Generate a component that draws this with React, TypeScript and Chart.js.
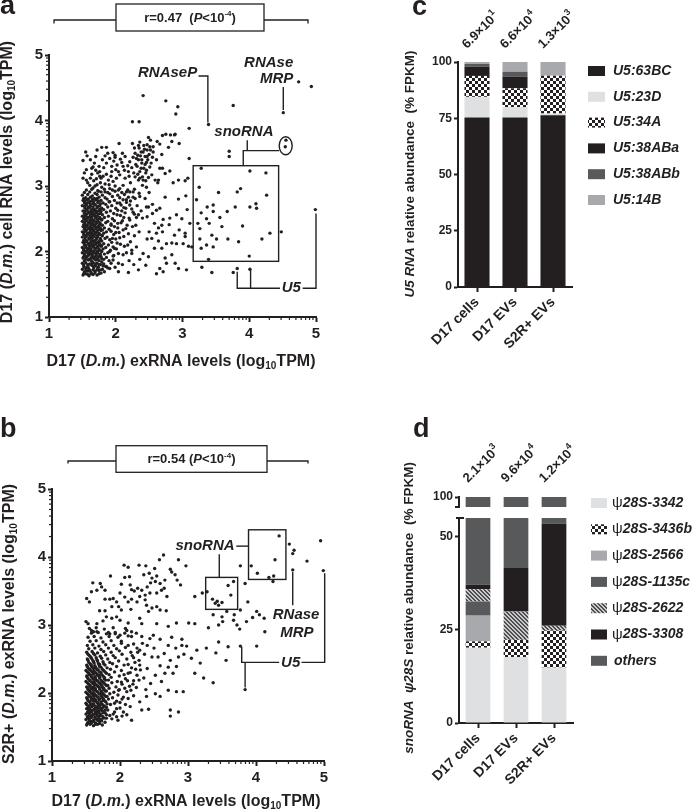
import React, { useEffect, useRef } from 'react';
import { Chart, registerables } from 'chart.js';

Chart.register(...registerables);

const INK = '#231f20';
const FF = '"Liberation Sans", Arial, Helvetica, sans-serif';
const font = (size: number, italic = false) => `${italic ? 'italic ' : ''}bold ${size}px ${FF}`;

// ---------------- Panel a: D17 exRNA (x) vs D17 cell RNA (y), log10 TPM ----------------
const aHighlighted: [number, number][] = [
  [2.41,4.38],[2.75,4.30],[2.93,4.21],[2.90,4.10],[2.25,3.98],[2.35,3.98],[3.39,3.94],[3.10,3.88],
  [3.76,4.23],[4.74,4.59],[4.93,4.52],[4.51,4.12],[4.55,3.70],[4.54,3.60],[3.70,3.53],[3.70,3.45],
  [3.10,3.42],[4.99,2.64],[3.82,1.74],[4.01,1.73],[3.76,1.68],[4.48,2.30],
];
const aBoxed: [number, number][] = [
  [3.28,3.27],[4.01,3.23],[4.25,3.20],[3.25,2.98],[3.54,2.90],[3.82,2.91],[3.87,2.96],[4.26,2.86],
  [3.21,2.79],[3.37,2.68],[3.46,2.71],[3.46,2.61],[3.28,2.59],[3.67,2.61],[3.79,2.68],[4.01,2.68],
  [4.10,2.73],[4.11,2.66],[3.56,2.52],[3.36,2.50],[3.26,2.35],[3.23,2.43],[3.40,2.43],[3.59,2.38],
  [3.90,2.39],[4.31,2.28],[3.44,2.25],[3.51,2.19],[3.68,2.19],[3.26,2.19],[3.84,2.15],[4.19,2.19],
  [3.36,2.10],[3.46,2.07],[3.28,2.05],[3.39,1.88],[4.00,1.93],
];
const aUpperCloud: [number, number][] = [
  [1.51,3.39],[1.57,3.46],[1.72,3.55],[1.79,3.59],[1.86,3.59],[1.96,3.51],[2.05,3.65],[2.25,3.65],
  [2.36,3.67],[2.49,3.74],[2.52,3.70],[2.62,3.68],[2.66,3.64],[2.70,3.77],[2.75,3.79],[2.84,3.68],
  [2.89,3.79],[2.95,3.65],[2.79,3.59],[2.69,3.48],[2.82,3.78],[2.88,3.78],
  [1.56,3.25],[1.66,3.29],[1.75,3.30],[1.76,3.22],[1.86,3.35],[1.91,3.42],[1.99,3.47],[2.10,3.50],
  [2.14,3.45],[2.21,3.37],[2.29,3.50],[2.34,3.40],[2.39,3.35],[2.44,3.45],[2.47,3.55],[2.51,3.60],
  [2.56,3.52],[2.61,3.40],[2.66,3.27],[2.74,3.19],[2.81,3.23],[2.94,3.09],[3.04,3.08],[3.08,3.12],
  [2.74,2.83],[2.94,2.80],[3.05,2.85],
  [1.51,3.12],[1.56,3.09],[1.62,3.12],[1.71,3.11],[1.81,3.15],[1.89,3.09],[1.96,3.07],[2.01,3.12],
  [2.06,3.17],[2.14,3.12],[2.19,3.22],[2.24,3.28],[2.29,3.14],[2.36,3.22],[2.41,3.09],[2.46,3.24],
  [2.54,3.17],[2.59,3.09],[2.64,3.09],[2.70,3.27],
  [1.91,2.96],[1.99,3.00],[2.04,2.94],[2.11,3.01],[2.16,2.91],[2.26,2.91],[2.34,3.09],[2.40,3.01],
  [2.46,2.98],[2.50,2.90],[2.36,2.84],[2.44,2.81],[2.26,2.83],[2.16,2.79],[2.06,2.74],[1.91,2.76],
  [2.21,2.71],[2.46,2.68],[2.66,2.66],[1.69,3.00],[1.79,2.98],[1.84,2.91],
  [1.97,3.38],[2.02,3.32],[2.07,3.41],[2.00,3.25],[2.11,3.30],[1.94,3.30],[2.04,3.22],[2.09,3.36],
  [1.99,3.44],[2.13,3.24],[2.32,3.30],[2.37,3.46],[2.41,3.52],[2.44,3.33],[2.48,3.40],[2.35,3.58],
  [2.42,3.62],[2.50,3.48],[2.38,3.27],[2.45,3.20],[2.31,3.42],[2.53,3.35],[2.40,3.14],[2.47,3.63],
  [2.56,3.60],[2.33,3.18],[1.53,3.20],[1.58,3.05],[1.64,3.18],[1.68,3.35],[1.73,3.20],[1.77,3.05],
  [1.82,3.28],[1.86,3.18],[1.62,3.40],[1.70,3.45],[1.55,3.52],[1.80,3.40],[1.88,3.50],[1.66,2.97],
  [1.74,2.92],[1.78,3.12],[1.90,3.02],[2.45,3.08],[2.63,3.05],[2.86,3.05],
  [2.22,3.05],[2.27,3.20],[2.30,3.33],[2.33,3.47],[2.36,3.12],[2.39,3.40],[2.42,3.27],[2.43,3.56],
  [2.46,3.36],[2.49,3.13],[2.51,3.29],[2.55,3.44],[2.28,3.58],[2.38,3.52],[2.34,3.62],[2.47,3.45],
  [2.26,3.44],[2.18,3.31],[2.20,3.15],[2.52,3.55],[1.61,3.01],[1.67,3.08],[1.72,3.02],[1.76,3.15],
  [1.84,3.03],[1.93,3.15],[1.64,3.27],[1.70,3.24],[1.84,3.46],[1.94,3.22],
];
const aSpread: [number, number][] = [
  [2.49,2.68],[2.61,2.63],[2.34,2.56],[2.40,2.51],[2.47,2.53],[2.71,2.49],[2.81,2.51],[2.91,2.56],
  [2.69,2.40],[2.80,2.41],[3.11,2.43],[2.50,2.30],[2.61,2.28],[2.70,2.30],[2.47,2.19],[2.54,2.20],
  [2.64,2.16],[2.76,2.12],[2.84,2.13],[2.91,2.12],[3.04,2.28],[3.04,2.23],[3.01,2.12],[3.09,2.08],
  [3.14,2.07],[2.69,2.05],[2.41,1.97],[2.49,1.92],[2.36,1.88],[2.24,2.02],[2.24,1.97],[2.31,2.07],
  [2.16,1.98],[2.11,1.95],[2.04,1.97],[1.96,1.93],[1.91,2.00],[2.84,1.95],[2.74,1.90],[2.76,1.82],
  [2.89,1.82],[2.94,1.74],[3.06,1.72],[2.66,1.74],[2.61,1.66],[2.34,1.72],[2.19,1.68],[2.04,1.69],
  [1.91,1.74],[1.86,1.77],[2.04,1.82],[1.96,1.87],[3.29,1.76],[3.44,1.68],[2.71,1.69],[3.07,2.64],
  [1.93,2.40],[1.98,2.47],[2.03,2.36],[2.08,2.44],[2.12,2.52],[2.17,2.40],[2.21,2.48],[2.25,2.38],
  [2.02,2.56],[2.09,2.62],[2.15,2.66],[2.26,2.60],[2.31,2.52],[2.00,2.29],[2.06,2.21],[2.11,2.33],
  [2.19,2.27],[2.22,2.15],[1.95,2.20],[2.02,2.13],[2.13,2.08],[1.98,2.05],[2.28,2.24],[2.18,2.10],
  [2.35,2.30],[2.30,2.40],[2.38,2.62],[2.55,2.58],[2.58,2.43],[2.20,1.86],[2.10,1.80],[2.27,1.80],
  [1.99,1.76],[2.45,1.79],[2.58,2.05],[2.64,2.36],[2.95,2.33],[2.88,2.25],[2.99,2.50],[2.55,2.72],
];
const aDenseCore: [number, number][] = [
  [1.51,1.64],[1.55,1.66],[1.60,1.63],[1.66,1.65],[1.72,1.64],[1.78,1.67],
  [1.53,1.69],[1.58,1.70],[1.63,1.68],[1.69,1.70],[1.75,1.71],[1.83,1.69],
  [1.50,1.73],[1.56,1.74],[1.61,1.72],[1.67,1.75],[1.73,1.74],[1.80,1.73],[1.88,1.75],
  [1.52,1.78],[1.58,1.77],[1.64,1.79],[1.70,1.78],[1.77,1.80],[1.85,1.77],
  [1.50,1.82],[1.55,1.83],[1.61,1.81],[1.66,1.83],[1.72,1.82],[1.79,1.84],[1.93,1.82],
  [1.53,1.86],[1.59,1.87],[1.64,1.85],[1.70,1.87],[1.75,1.86],[1.82,1.88],[1.90,1.86],
  [1.51,1.90],[1.56,1.91],[1.62,1.89],[1.68,1.91],[1.73,1.90],[1.78,1.92],[1.86,1.91],
  [1.54,1.94],[1.60,1.95],[1.65,1.93],[1.71,1.95],[1.76,1.94],[1.83,1.96],[1.97,1.94],
  [1.50,1.98],[1.56,1.99],[1.62,1.97],[1.67,1.99],[1.73,1.98],[1.79,2.00],[1.88,1.98],
  [1.52,2.02],[1.58,2.03],[1.63,2.01],[1.69,2.03],[1.75,2.02],[1.81,2.04],[1.92,2.02],[2.01,2.04],
  [1.50,2.06],[1.55,2.07],[1.61,2.05],[1.66,2.07],[1.72,2.06],[1.78,2.08],[1.85,2.06],[1.96,2.07],
  [1.53,2.10],[1.59,2.11],[1.64,2.09],[1.70,2.11],[1.76,2.10],[1.82,2.12],[1.89,2.10],[2.07,2.11],
  [1.51,2.14],[1.56,2.15],[1.62,2.13],[1.68,2.15],[1.73,2.14],[1.79,2.16],[1.94,2.14],
  [1.54,2.18],[1.60,2.19],[1.65,2.17],[1.71,2.19],[1.77,2.18],[1.84,2.20],[1.91,2.18],[2.00,2.19],
  [1.50,2.22],[1.56,2.23],[1.62,2.21],[1.67,2.23],[1.73,2.22],[1.80,2.24],[1.87,2.22],[2.12,2.23],
  [1.52,2.26],[1.58,2.27],[1.64,2.25],[1.69,2.27],[1.75,2.26],[1.82,2.28],[1.97,2.26],
  [1.50,2.30],[1.55,2.31],[1.61,2.29],[1.67,2.31],[1.72,2.30],[1.78,2.32],[1.86,2.30],[1.93,2.31],[2.05,2.29],
  [1.53,2.34],[1.59,2.35],[1.64,2.33],[1.70,2.35],[1.76,2.34],[1.83,2.36],[1.90,2.34],[2.15,2.35],
  [1.51,2.38],[1.57,2.39],[1.62,2.37],[1.68,2.39],[1.74,2.38],[1.80,2.40],[1.98,2.38],
  [1.54,2.42],[1.60,2.43],[1.66,2.41],[1.71,2.43],[1.77,2.42],[1.85,2.44],[1.93,2.42],[2.03,2.43],
  [1.50,2.46],[1.56,2.47],[1.62,2.45],[1.67,2.47],[1.73,2.46],[1.79,2.48],[1.88,2.46],[2.10,2.47],
  [1.52,2.50],[1.58,2.51],[1.64,2.49],[1.70,2.51],[1.76,2.50],[1.83,2.52],[1.95,2.50],[2.20,2.51],
  [1.50,2.54],[1.55,2.55],[1.61,2.53],[1.67,2.55],[1.72,2.54],[1.80,2.56],[1.89,2.54],[2.07,2.55],
  [1.53,2.58],[1.59,2.59],[1.65,2.57],[1.71,2.59],[1.77,2.58],[1.86,2.60],[1.97,2.58],[2.14,2.59],[2.28,2.57],
  [1.51,2.62],[1.57,2.63],[1.63,2.61],[1.68,2.63],[1.74,2.62],[1.82,2.64],[1.92,2.62],[2.03,2.63],
  [1.54,2.66],[1.60,2.67],[1.66,2.65],[1.72,2.67],[1.79,2.66],[1.88,2.68],[2.00,2.66],[2.12,2.67],[2.24,2.65],
  [1.50,2.70],[1.56,2.71],[1.62,2.69],[1.69,2.71],[1.76,2.70],[1.85,2.72],[1.94,2.70],[2.08,2.71],[2.32,2.70],
  [1.53,2.74],[1.59,2.75],[1.66,2.73],[1.73,2.75],[1.81,2.74],[1.90,2.76],[2.02,2.74],[2.16,2.75],
  [1.51,2.78],[1.57,2.79],[1.64,2.77],[1.70,2.79],[1.78,2.78],[1.87,2.80],[1.98,2.78],[2.11,2.79],[2.22,2.77],
  [1.55,2.82],[1.62,2.83],[1.68,2.81],[1.75,2.83],[1.84,2.82],[1.95,2.84],[2.06,2.82],[2.19,2.83],[2.29,2.81],
  [1.50,2.86],[1.58,2.87],[1.65,2.85],[1.72,2.87],[1.80,2.86],[1.91,2.88],[2.03,2.86],[2.13,2.87],
  [1.53,2.90],[1.61,2.91],[1.69,2.89],[1.78,2.91],[1.88,2.90],[1.99,2.92],[2.09,2.90],[2.21,2.91],[2.35,2.89],
  [1.56,2.94],[1.64,2.95],[1.73,2.93],[1.83,2.95],[1.95,2.94],[2.06,2.96],[2.18,2.94],[2.28,2.95],
];
const aDenseFill: [number, number][] = [
  [1.52,1.66],[1.58,1.65],[1.63,1.66],[1.69,1.67],[1.75,1.66],
  [1.55,1.71],[1.61,1.71],[1.66,1.72],[1.72,1.72],[1.78,1.72],
  [1.53,1.76],[1.59,1.75],[1.67,1.77],[1.74,1.76],[1.81,1.78],
  [1.52,1.80],[1.58,1.80],[1.64,1.81],[1.69,1.81],[1.75,1.80],[1.82,1.81],
  [1.55,1.88],[1.61,1.88],[1.67,1.89],[1.72,1.88],[1.79,1.89],
  [1.52,1.92],[1.58,1.93],[1.64,1.92],[1.70,1.93],[1.75,1.92],
  [1.53,1.96],[1.59,1.97],[1.65,1.96],[1.70,1.97],[1.77,1.96],
  [1.55,2.00],[1.61,2.00],[1.66,2.00],[1.72,2.00],[1.78,2.01],
  [1.52,2.04],[1.57,2.05],[1.63,2.04],[1.69,2.05],[1.75,2.04],
  [1.55,2.09],[1.61,2.08],[1.67,2.09],[1.73,2.08],[1.79,2.09],
  [1.53,2.13],[1.59,2.12],[1.65,2.12],[1.71,2.13],[1.76,2.12],
  [1.52,2.17],[1.57,2.16],[1.63,2.16],[1.69,2.17],[1.75,2.16],
  [1.54,2.21],[1.60,2.20],[1.65,2.21],[1.71,2.21],[1.77,2.20],
  [1.55,2.25],[1.61,2.24],[1.67,2.25],[1.72,2.24],[1.79,2.25],
  [1.52,2.29],[1.58,2.28],[1.64,2.28],[1.70,2.29],[1.75,2.28],
  [1.56,2.33],[1.62,2.32],[1.67,2.32],[1.73,2.33],[1.80,2.33],
  [1.54,2.37],[1.60,2.36],[1.65,2.36],[1.71,2.37],[1.77,2.36],
  [1.52,2.41],[1.57,2.40],[1.63,2.40],[1.69,2.41],[1.75,2.40],
  [1.53,2.45],[1.59,2.44],[1.65,2.44],[1.70,2.45],[1.76,2.44],
  [1.55,2.49],[1.61,2.48],[1.67,2.48],[1.73,2.49],[1.79,2.49],
  [1.53,2.53],[1.58,2.52],[1.64,2.52],[1.70,2.53],[1.76,2.52],
  [1.56,2.57],[1.62,2.56],[1.68,2.56],[1.74,2.57],
  [1.54,2.61],[1.60,2.60],[1.66,2.60],[1.71,2.61],[1.78,2.61],
  [1.57,2.65],[1.63,2.64],[1.69,2.64],[1.76,2.65],
  [1.53,2.69],[1.59,2.68],[1.66,2.68],[1.73,2.69],
  [1.56,2.73],[1.62,2.72],[1.69,2.72],[1.77,2.73],
  [1.54,2.77],[1.61,2.76],[1.67,2.76],[1.74,2.77],
  [1.52,2.81],[1.59,2.80],[1.65,2.80],[1.72,2.81],
];

// ---------------- Panel b: D17 exRNA (x) vs S2R+ exRNA (y), log10 TPM ----------------
const bHighlighted: [number, number][] = [
  [4.95,4.24],[4.34,4.31],[4.49,4.19],[4.56,4.10],[4.54,4.05],[4.75,3.94],[4.28,3.96],[3.93,3.87],
  [3.77,3.87],[4.02,3.76],[4.19,3.70],[4.26,3.72],[4.25,3.64],[4.54,3.81],[4.99,3.80],
  [3.67,3.64],[3.59,3.58],[3.28,3.49],[3.63,3.44],[3.36,3.38],[3.43,3.35],[3.50,3.33],[3.40,3.32],
  [3.45,3.29],[3.84,2.05],[3.77,2.69],[4.01,2.69],[4.13,2.90],[3.84,3.61],[3.10,3.42],[3.21,3.47],
];
const bRight: [number, number][] = [
  [2.71,2.98],[3.30,2.96],[3.45,3.00],[3.51,3.05],[3.67,3.07],[3.72,3.00],[3.86,3.05],[3.95,3.11],
  [4.01,3.20],[4.05,3.15],[4.12,3.10],[3.88,3.34],[3.77,3.22],[3.37,3.15],[3.50,3.12],[3.57,3.20],
  [3.68,3.15],[3.76,2.94],[3.45,2.75],[3.41,2.59],[3.59,2.68],[3.56,2.48],[3.37,2.15],
];
const bUpperCloud: [number, number][] = [
  [2.64,4.03],[2.58,3.96],[2.86,3.96],[2.97,3.87],[2.06,3.88],[2.12,3.85],[2.28,3.88],[2.38,3.87],
  [2.51,3.83],[1.86,3.72],[2.07,3.70],[2.14,3.71],[2.35,3.74],[2.43,3.76],[2.47,3.69],[2.54,3.72],
  [2.74,3.82],[2.76,3.78],[2.81,3.74],[2.84,3.66],[2.89,3.59],[1.60,3.62],[1.71,3.61],[1.73,3.56],
  [1.78,3.51],[1.66,3.51],[1.58,3.49],[2.02,3.60],[2.15,3.59],[2.17,3.52],[2.21,3.50],[2.26,3.54],
  [2.32,3.51],[2.40,3.56],[2.45,3.62],[2.52,3.64],[2.59,3.61],[2.66,3.66],[2.61,3.51],[2.54,3.47],
  [2.44,3.47],[2.37,3.44],[2.65,3.54],[2.69,3.42],[1.51,3.39],[1.55,3.34],[1.78,3.38],[1.85,3.38],
  [1.90,3.39],[1.95,3.34],[2.00,3.47],[2.07,3.41],[2.12,3.34],[2.17,3.38],[2.25,3.34],[2.29,3.42],
  [2.37,3.37],[2.39,3.29],[2.47,3.25],[2.54,3.27],[2.59,3.22],[2.42,3.20],[2.68,3.21],[1.70,3.21],
  [1.78,3.21],[1.88,3.27],[1.98,3.27],[2.02,3.22],[2.16,3.23],[1.88,3.10],[1.95,3.12],[2.00,3.07],
  [1.80,3.12],[1.50,3.05],[1.53,3.02],[1.66,3.02],[1.75,3.06],[2.12,3.03],[2.29,3.10],[2.32,3.02],
  [2.54,3.02],[2.83,3.03],[3.01,3.03],[3.10,3.02],[1.58,2.92],[1.66,2.90],[1.83,2.89],[1.93,2.87],
  [2.00,2.85],[2.10,2.92],[2.17,2.90],[2.32,2.83],[2.49,2.85],[2.76,2.82],[2.91,2.79],
];
const bTail: [number, number][] = [
  [1.61,2.90],[1.85,2.87],[2.07,2.88],[2.17,2.83],[2.44,2.80],[2.59,2.79],[2.71,2.70],[2.82,2.66],
  [2.91,2.70],[2.98,2.69],[3.13,2.63],[3.27,2.66],[2.02,2.73],[2.12,2.70],[2.40,2.70],[2.29,2.63],
  [2.47,2.53],[2.56,2.53],[2.65,2.58],[2.74,2.48],[2.86,2.53],[2.94,2.57],[3.05,2.51],[3.18,2.44],
  [2.59,2.40],[2.71,2.38],[2.83,2.39],[2.29,2.41],[2.40,2.36],[2.52,2.26],[2.66,2.29],[2.78,2.29],
  [3.10,2.29],[3.23,2.22],[2.61,2.17],[2.71,2.04],[2.83,2.02],[2.93,2.02],[2.52,1.99],[2.59,1.95],
  [2.39,1.95],[2.29,1.87],[2.32,1.75],[2.42,1.76],[2.74,1.75],[2.86,1.72],[2.74,1.66],[2.15,1.80],
  [2.05,1.72],[2.17,1.60],[2.10,1.68],[1.95,1.65],
  [1.88,1.62],[1.97,1.60],[2.03,1.66],[1.92,1.72],[2.00,1.78],[2.08,1.83],[1.95,1.88],[2.03,1.91],
  [2.12,1.92],[2.20,1.96],[1.98,2.04],[2.07,2.07],[2.16,2.04],[2.24,2.08],[2.02,2.16],[2.11,2.18],
  [2.19,2.13],[2.28,2.19],[2.06,2.27],[2.15,2.30],[2.23,2.35],[2.35,2.22],[2.12,2.42],[2.20,2.52],
  [2.28,2.48],[2.36,2.57],[2.16,2.60],[2.25,2.66],[2.33,2.73],[2.50,2.66],[2.45,2.14],[2.38,2.05],
];
const bDenseCore: [number, number][] = [
  [1.51,1.53],[1.56,1.54],[1.61,1.52],[1.67,1.54],[1.74,1.53],
  [1.53,1.57],[1.58,1.58],[1.64,1.56],[1.70,1.58],[1.78,1.57],
  [1.50,1.61],[1.55,1.62],[1.61,1.60],[1.66,1.62],[1.72,1.61],[1.80,1.63],
  [1.52,1.65],[1.58,1.66],[1.63,1.64],[1.69,1.66],[1.75,1.65],[1.85,1.67],
  [1.50,1.69],[1.55,1.70],[1.60,1.68],[1.66,1.70],[1.71,1.69],[1.78,1.71],[1.90,1.69],
  [1.53,1.73],[1.58,1.74],[1.64,1.72],[1.69,1.74],[1.75,1.73],[1.82,1.75],
  [1.51,1.77],[1.56,1.78],[1.62,1.76],[1.67,1.78],[1.73,1.77],[1.80,1.79],[1.95,1.77],
  [1.54,1.81],[1.59,1.82],[1.65,1.80],[1.70,1.82],[1.77,1.81],[1.86,1.83],
  [1.50,1.85],[1.56,1.86],[1.61,1.84],[1.67,1.86],[1.72,1.85],[1.79,1.87],[1.92,1.85],[2.00,1.86],
  [1.53,1.89],[1.58,1.90],[1.64,1.88],[1.69,1.90],[1.75,1.89],[1.83,1.91],
  [1.51,1.93],[1.57,1.94],[1.62,1.92],[1.68,1.94],[1.74,1.93],[1.81,1.95],[1.89,1.93],[2.05,1.94],
  [1.54,1.97],[1.59,1.98],[1.65,1.96],[1.71,1.98],[1.77,1.97],[1.85,1.99],[1.97,1.97],
  [1.50,2.01],[1.56,2.02],[1.61,2.00],[1.67,2.02],[1.73,2.01],[1.80,2.03],[1.91,2.01],[2.10,2.02],
  [1.53,2.05],[1.58,2.06],[1.64,2.04],[1.70,2.06],[1.76,2.05],[1.84,2.07],[1.99,2.05],
  [1.51,2.09],[1.56,2.10],[1.62,2.08],[1.68,2.10],[1.74,2.09],[1.82,2.11],[1.94,2.09],[2.14,2.10],
  [1.54,2.13],[1.60,2.14],[1.65,2.12],[1.71,2.14],[1.78,2.13],[1.88,2.15],[2.03,2.13],
  [1.50,2.17],[1.56,2.18],[1.62,2.16],[1.67,2.18],[1.74,2.17],[1.83,2.19],[1.96,2.17],[2.20,2.18],
  [1.53,2.21],[1.59,2.22],[1.64,2.20],[1.70,2.22],[1.77,2.21],[1.87,2.23],[2.08,2.21],
  [1.51,2.25],[1.57,2.26],[1.63,2.24],[1.69,2.26],[1.75,2.25],[1.84,2.27],[1.99,2.25],[2.25,2.26],
  [1.54,2.29],[1.60,2.30],[1.66,2.28],[1.72,2.30],[1.80,2.29],[1.92,2.31],[2.12,2.29],
  [1.50,2.33],[1.56,2.34],[1.62,2.32],[1.68,2.34],[1.76,2.33],[1.86,2.35],[2.02,2.33],[2.30,2.34],
  [1.53,2.37],[1.59,2.38],[1.65,2.36],[1.72,2.38],[1.81,2.37],[1.95,2.39],[2.17,2.37],
  [1.51,2.41],[1.57,2.42],[1.63,2.40],[1.70,2.42],[1.78,2.41],[1.89,2.43],[2.06,2.41],
  [1.54,2.45],[1.61,2.46],[1.68,2.44],[1.75,2.46],[1.85,2.45],[1.98,2.47],[2.22,2.45],
  [1.52,2.50],[1.58,2.51],[1.66,2.49],[1.73,2.51],[1.82,2.50],[1.93,2.52],[2.10,2.50],
  [1.55,2.55],[1.63,2.56],[1.71,2.54],[1.79,2.56],[1.90,2.55],[2.03,2.57],[2.18,2.55],
  [1.51,2.60],[1.59,2.61],[1.67,2.59],[1.76,2.61],[1.87,2.60],[1.99,2.62],[2.26,2.60],
  [1.54,2.65],[1.63,2.66],[1.72,2.64],[1.83,2.66],[1.95,2.65],[2.08,2.67],
  [1.52,2.70],[1.60,2.71],[1.69,2.69],[1.79,2.71],[1.91,2.70],[2.20,2.72],
  [1.56,2.76],[1.65,2.77],[1.75,2.75],[1.87,2.77],[2.02,2.76],
  [1.53,2.82],[1.62,2.83],[1.72,2.81],[1.84,2.83],[1.97,2.82],[2.12,2.84],
  [1.58,2.88],[1.68,2.89],[1.80,2.87],[1.93,2.89],[2.24,2.88],
  [1.55,2.95],[1.65,2.96],[1.77,2.94],[1.90,2.96],[2.08,2.95],
];
const bDenseFill: [number, number][] = [
  [1.52,1.55],[1.58,1.56],[1.64,1.54],[1.70,1.55],
  [1.55,1.59],[1.61,1.58],[1.67,1.60],[1.73,1.59],
  [1.53,1.63],[1.58,1.64],[1.64,1.62],[1.69,1.63],[1.76,1.63],
  [1.55,1.67],[1.61,1.68],[1.66,1.67],[1.72,1.67],[1.80,1.68],
  [1.52,1.71],[1.58,1.72],[1.63,1.70],[1.69,1.71],[1.75,1.71],
  [1.55,1.75],[1.61,1.75],[1.66,1.74],[1.72,1.75],[1.78,1.75],
  [1.53,1.79],[1.59,1.80],[1.64,1.78],[1.70,1.79],[1.75,1.79],
  [1.51,1.83],[1.57,1.83],[1.62,1.82],[1.68,1.83],[1.74,1.83],[1.81,1.84],
  [1.55,1.87],[1.61,1.88],[1.66,1.86],[1.72,1.87],[1.78,1.88],
  [1.52,1.91],[1.58,1.92],[1.64,1.90],[1.70,1.91],[1.76,1.91],
  [1.55,1.95],[1.61,1.96],[1.67,1.94],[1.73,1.95],[1.79,1.95],
  [1.52,1.99],[1.58,2.00],[1.63,1.98],[1.69,1.99],[1.75,1.99],
  [1.55,2.03],[1.61,2.04],[1.66,2.02],[1.72,2.03],[1.78,2.03],
  [1.53,2.07],[1.59,2.08],[1.64,2.06],[1.70,2.07],[1.76,2.07],
  [1.56,2.11],[1.62,2.12],[1.67,2.10],[1.73,2.11],[1.80,2.11],
  [1.52,2.15],[1.58,2.16],[1.63,2.14],[1.69,2.15],[1.76,2.15],
  [1.55,2.19],[1.61,2.20],[1.66,2.18],[1.72,2.19],[1.79,2.19],
  [1.52,2.23],[1.58,2.24],[1.64,2.22],[1.70,2.23],[1.77,2.23],
  [1.55,2.27],[1.61,2.28],[1.67,2.26],[1.73,2.27],
  [1.52,2.31],[1.58,2.32],[1.64,2.30],[1.70,2.31],[1.78,2.31],
  [1.55,2.35],[1.61,2.36],[1.67,2.34],[1.74,2.35],
  [1.52,2.39],[1.58,2.40],[1.64,2.38],[1.70,2.39],
  [1.56,2.43],[1.62,2.44],[1.69,2.42],[1.76,2.43],
  [1.53,2.48],[1.60,2.48],[1.67,2.47],
  [1.57,2.53],[1.65,2.52],[1.53,2.57],[1.61,2.58],
];

// ---------------- Panels c & d: stacked composition (% FPKM) ----------------
const sampleLabels = ['D17 cells', 'D17 EVs', 'S2R+ EVs'];

const u5Names = ['U5:63BC', 'U5:23D', 'U5:34A', 'U5:38ABa', 'U5:38ABb', 'U5:14B'];
const u5_63BC = [75.3, 75.3, 76.3];
const u5_23D = [9.2, 4.7, 0.8];
const u5_34A = [9.3, 8.3, 16.8];
const u5_38ABa = [4.1, 5.1, 0];
const u5_38ABb = [1.2, 2.3, 0];
const u5_14B = [0.9, 4.3, 6.1];
const u5TotalMantissa = ['6.9', '6.6', '1.3'];
const u5TotalExponent = ['1', '4', '3'];

const psiNames = ['28S-3342', '28S-3436b', '28S-2566', '28S-1135c', '28S-2622', '28S-3308', 'others'];
const psi3342 = [20.2, 17.7, 14.9];
const psi3436b = [1.7, 4.6, 9.9];
const psi2566 = [6.9, 0, 0];
const psi1135c = [3.8, 0, 0];
const psi2622 = [3.3, 7.6, 1.3];
const psi3308 = [1.2, 11.7, 27.4];
const psiOthers = [62.9, 58.4, 46.5];
const psiTotalMantissa = ['2.1', '9.6', '1.2'];
const psiTotalExponent = ['3', '4', '4'];

const LIGHT = '#dfe0e2';
const MID = '#a7a9ac';
const DARK = '#58595b';

// ---------------- helpers ----------------
type Seg = { t: string; f: string; dy?: number };

function drawRich(ctx: any, segs: Seg[], x: number, y: number, rot = 0, align = 'center', baseline = 'middle') {
  ctx.save();
  ctx.translate(x, y);
  ctx.rotate(rot);
  ctx.textAlign = 'left';
  ctx.textBaseline = baseline;
  ctx.fillStyle = INK;
  let w = 0;
  for (const s of segs) { ctx.font = s.f; w += ctx.measureText(s.t).width; }
  let cx = align === 'center' ? -w / 2 : align === 'right' ? -w : 0;
  for (const s of segs) {
    ctx.font = s.f;
    ctx.fillText(s.t, cx, s.dy || 0);
    cx += ctx.measureText(s.t).width;
  }
  ctx.restore();
}

function poly(ctx: any, pts: number[][]) {
  ctx.beginPath();
  pts.forEach(([x, y], i) => (i ? ctx.lineTo(x, y) : ctx.moveTo(x, y)));
  ctx.stroke();
}

function letter(ctx: any, t: string, x: number, y: number) {
  ctx.save();
  ctx.fillStyle = INK;
  ctx.font = `bold 27px ${FF}`;
  ctx.textAlign = 'left';
  ctx.textBaseline = 'alphabetic';
  ctx.fillText(t, x, y);
  ctx.restore();
}

const log10Title = (pre: string, mid: string): Seg[] => [
  { t: pre, f: font(16) },
  { t: 'D.m.', f: font(16, true) },
  { t: mid, f: font(16) },
  { t: '10', f: font(10), dy: 4 },
  { t: 'TPM)', f: font(16) },
];

const minorTicks = {
  id: 'minorTicks',
  afterDraw(chart: any) {
    const { ctx, chartArea } = chart;
    const { x, y } = chart.scales;
    ctx.save();
    ctx.strokeStyle = INK;
    ctx.lineWidth = 1.2;
    for (let n = 1; n < 5; n++) {
      for (let k = 2; k <= 9; k++) {
        const v = n + Math.log10(k);
        const px = x.getPixelForValue(v);
        poly(ctx, [[px, chartArea.bottom], [px, chartArea.bottom + 3]]);
        const py = y.getPixelForValue(v);
        poly(ctx, [[chartArea.left - 3, py], [chartArea.left, py]]);
      }
    }
    ctx.restore();
  },
};

function scatterConfig(points: [number, number][], geo: any, extras: (c: any) => void) {
  const tickFont = { family: FF, size: 15, weight: 'bold' };
  return {
    type: 'scatter',
    data: {
      datasets: [{
        data: points.map(([x, y]) => ({ x, y })),
        pointRadius: 1.7,
        pointHoverRadius: 1.7,
        pointBackgroundColor: INK,
        pointBorderWidth: 0,
        clip: false,
      }],
    },
    options: {
      responsive: false,
      animation: false,
      devicePixelRatio: 1,
      events: [],
      layout: { padding: { top: geo.top, right: geo.right, left: 0, bottom: 0 } },
      plugins: { legend: { display: false }, tooltip: { enabled: false } },
      scales: {
        x: {
          type: 'linear', min: 1, max: 5,
          afterFit: (s: any) => { s.height = geo.xh; },
          ticks: { stepSize: 1, font: tickFont, color: INK, padding: 3, maxRotation: 0 },
          grid: { drawOnChartArea: false, drawTicks: true, tickLength: 5, tickWidth: 2, tickColor: INK, color: INK },
          border: { display: true, color: INK, width: 2 },
        },
        y: {
          type: 'linear', min: 1, max: 5,
          afterFit: (s: any) => { s.width = geo.yw; },
          ticks: { stepSize: 1, font: tickFont, color: INK, padding: 2 },
          grid: { drawOnChartArea: false, drawTicks: true, tickLength: 4, tickWidth: 2, tickColor: INK, color: INK },
          border: { display: true, color: INK, width: 2 },
        },
      },
    },
    plugins: [minorTicks, { id: 'extras', afterDraw: extras }],
  };
}

function drawPanelA(chart: any) {
  const { ctx } = chart;
  const { x, y } = chart.scales;
  const X = (v: number) => x.getPixelForValue(v);
  const Y = (v: number) => y.getPixelForValue(v);
  ctx.save();
  ctx.strokeStyle = INK;
  ctx.fillStyle = INK;
  letter(ctx, 'a', 0, 14);
  ctx.lineWidth = 1.3;
  poly(ctx, [[54, 23.5], [54, 20], [116, 20]]);
  poly(ctx, [[264, 20], [308, 20], [308, 23.5]]);
  ctx.strokeRect(116, 4, 148, 27);
  drawRich(ctx, [
    { t: 'r=0.47  (', f: font(13) }, { t: 'P', f: font(13, true) }, { t: '<10', f: font(13) },
    { t: '-4', f: font(8), dy: -4 }, { t: ')', f: font(13) },
  ], 190, 18);
  drawRich(ctx, log10Title('D17 (', ') cell RNA levels (log'), 8, 182, -Math.PI / 2);
  drawRich(ctx, log10Title('D17 (', ') exRNA levels (log'), 181, 362);

  ctx.lineWidth = 1.4;
  ctx.strokeRect(X(3.16), Y(3.31), X(4.44) - X(3.16), Y(1.85) - Y(3.31));
  const lab = (t: string, vx: number, vy: number, align = 'center') =>
    drawRich(ctx, [{ t, f: font(15, true) }], X(vx), Y(vy), 0, align);
  lab('RNAseP', 3.22, 4.72, 'right');
  poly(ctx, [[X(3.24), Y(4.68)], [X(3.38), Y(4.68)], [X(3.38), Y(3.97)]]);
  lab('RNAse', 4.66, 4.88, 'right');
  lab('MRP', 4.66, 4.63, 'right');
  poly(ctx, [[X(4.51), Y(4.51)], [X(4.51), Y(4.16)]]);
  lab('snoRNA', 3.92, 3.83);
  poly(ctx, [[X(3.97), Y(3.70)], [X(3.97), Y(3.54)]]);
  poly(ctx, [[X(3.91), Y(3.31)], [X(3.91), Y(3.54)], [X(4.45), Y(3.54)]]);
  ctx.beginPath();
  ctx.ellipse(X(4.546), Y(3.615), 6.5, 9, 0, 0, Math.PI * 2);
  ctx.stroke();
  lab('U5', 4.63, 1.44);
  poly(ctx, [[X(3.82), Y(1.69)], [X(3.82), Y(1.44)], [X(4.46), Y(1.44)]]);
  poly(ctx, [[X(4.02), Y(1.72)], [X(4.02), Y(1.44)]]);
  poly(ctx, [[X(4.80), Y(1.44)], [X(5.0), Y(1.44)], [X(5.0), Y(2.58)]]);
  ctx.restore();
}

function drawPanelB(chart: any) {
  const { ctx } = chart;
  const { x, y } = chart.scales;
  const X = (v: number) => x.getPixelForValue(v);
  const Y = (v: number) => y.getPixelForValue(v);
  ctx.save();
  ctx.strokeStyle = INK;
  ctx.fillStyle = INK;
  letter(ctx, 'b', 0, 37);
  ctx.lineWidth = 1.3;
  poly(ctx, [[68, 63.5], [68, 61], [116, 61]]);
  poly(ctx, [[267, 61], [308, 61], [308, 63.5]]);
  ctx.strokeRect(116, 45.7, 151, 26.6);
  drawRich(ctx, [
    { t: 'r=0.54 (', f: font(13) }, { t: 'P', f: font(13, true) }, { t: '<10', f: font(13) },
    { t: '-4', f: font(8), dy: -4 }, { t: ')', f: font(13) },
  ], 191.5, 59.5);
  drawRich(ctx, log10Title('S2R+ (', ') exRNA levels (log'), 10, 224, -Math.PI / 2);
  drawRich(ctx, log10Title('D17 (', ') exRNA levels (log'), 186, 402);

  ctx.lineWidth = 1.4;
  ctx.strokeRect(X(3.26), Y(3.70), X(3.73) - X(3.26), Y(3.23) - Y(3.70));
  ctx.strokeRect(X(3.89), Y(4.40), X(4.44) - X(3.89), Y(3.67) - Y(4.40));
  const lab = (t: string, vx: number, vy: number, align = 'center') =>
    drawRich(ctx, [{ t, f: font(15, true) }], X(vx), Y(vy), 0, align);
  lab('snoRNA', 3.25, 4.16);
  poly(ctx, [[X(3.71), Y(4.16)], [X(3.89), Y(4.16)]]);
  poly(ctx, [[X(3.46), Y(4.04)], [X(3.46), Y(3.70)]]);
  lab('RNase', 4.59, 3.15);
  lab('MRP', 4.60, 2.89);
  poly(ctx, [[X(4.54), Y(3.78)], [X(4.54), Y(3.29)]]);
  lab('U5', 4.51, 2.45);
  poly(ctx, [[X(3.79), Y(2.68)], [X(3.79), Y(2.45)], [X(4.34), Y(2.45)]]);
  poly(ctx, [[X(3.84), Y(2.45)], [X(3.84), Y(2.08)]]);
  poly(ctx, [[X(4.67), Y(2.45)], [X(5.01), Y(2.45)], [X(5.01), Y(3.76)]]);
  ctx.restore();
}

function makePatterns() {
  const mk = (size: number, draw: (c: any) => void) => {
    const cv = document.createElement('canvas');
    cv.width = size; cv.height = size;
    const c = cv.getContext('2d');
    draw(c);
    return (document.createElement('canvas').getContext('2d') as any).createPattern(cv, 'repeat');
  };
  const checker = mk(6, (c) => {
    c.fillStyle = '#ffffff'; c.fillRect(0, 0, 6, 6);
    c.fillStyle = INK; c.fillRect(0, 0, 3, 3); c.fillRect(3, 3, 3, 3);
  });
  const hatch = mk(4, (c) => {
    c.fillStyle = '#c9cacc'; c.fillRect(0, 0, 4, 4);
    c.fillStyle = '#4d4d4f';
    for (let i = 0; i < 4; i++) { c.fillRect(i, i, 1, 1); c.fillRect((i + 1) % 4, i, 1, 1); }
  });
  return { checker, hatch };
}

function barScales(opts: any) {
  const tickFont = { family: FF, size: 12, weight: 'bold' };
  return {
    x: {
      stacked: true,
      display: opts.showX,
      afterFit: (s: any) => { s.height = opts.xh; },
      ticks: { font: { family: FF, size: 14, weight: 'bold' }, color: INK, minRotation: 45, maxRotation: 45, padding: 2, autoSkip: false },
      grid: { offset: false, drawOnChartArea: false, drawTicks: true, tickLength: 5, tickWidth: 2, tickColor: INK, color: INK },
      border: { display: true, color: INK, width: 2 },
    },
    y: {
      stacked: true, min: opts.min, max: opts.max,
      afterFit: (s: any) => { s.width = opts.yw; },
      afterBuildTicks: (s: any) => { s.ticks = opts.ticks.map((v: number) => ({ value: v })); },
      ticks: { font: tickFont, color: INK, padding: 2 },
      grid: { drawOnChartArea: false, drawTicks: true, tickLength: 4, tickWidth: 2, tickColor: INK, color: INK },
      border: { display: true, color: INK, width: 2 },
    },
  };
}

// rotated (45 degrees, rising to the right) totals printed above each bar
function topLabels(chart: any, mant: string[], exp: string[], yBase: number) {
  const ctx = chart.ctx;
  const meta = chart.getDatasetMeta(0);
  meta.data.forEach((bar: any, i: number) => {
    ctx.save();
    ctx.translate(bar.x - 10, yBase);
    ctx.rotate(-Math.PI / 4);
    ctx.fillStyle = INK;
    ctx.textAlign = 'left';
    ctx.textBaseline = 'alphabetic';
    ctx.font = font(13);
    const main = `${mant[i]}\u00D710`;
    ctx.fillText(main, 0, 0);
    const w = ctx.measureText(main).width;
    ctx.font = font(9);
    ctx.fillText(exp[i], w + 0.5, -6);
    ctx.restore();
  });
}

export default function App() {
  const aRef = useRef<HTMLCanvasElement>(null);
  const bRef = useRef<HTMLCanvasElement>(null);
  const cRef = useRef<HTMLCanvasElement>(null);
  const dLoRef = useRef<HTMLCanvasElement>(null);
  const dHiRef = useRef<HTMLCanvasElement>(null);

  useEffect(() => {
    const charts: Chart[] = [];
    const { checker, hatch } = makePatterns();

    const aPoints = [...aDenseCore, ...aDenseFill, ...aUpperCloud, ...aSpread, ...aBoxed, ...aHighlighted];
    const bPoints = [...bDenseCore, ...bDenseFill, ...bUpperCloud, ...bTail, ...bRight, ...bHighlighted];
    charts.push(new Chart(aRef.current as any, scatterConfig(aPoints, { top: 55, right: 34, yw: 49, xh: 63 }, drawPanelA) as any));
    charts.push(new Chart(bRef.current as any, scatterConfig(bPoints, { top: 89, right: 26, yw: 52, xh: 50 }, drawPanelB) as any));

    // ---- panel c ----
    const u5Values = [u5_63BC, u5_23D, u5_34A, u5_38ABa, u5_38ABb, u5_14B];
    const u5Fills = [INK, LIGHT, checker, INK, DARK, MID];
    const cExtras = {
      id: 'cExtras',
      afterDraw(chart: any) {
        const { ctx } = chart;
        letter(ctx, 'c', 42, 15);
        topLabels(chart, u5TotalMantissa, u5TotalExponent, chart.chartArea.top - 13);
        drawRich(ctx, [
          { t: 'U5 RNA', f: font(13.5, true) }, { t: ' relative abundance  (% FPKM)', f: font(13.5) },
        ], 40, 174, -Math.PI / 2);
        u5Names.forEach((n, i) => {
          const cy = 71 + i * 25.8;
          ctx.save();
          ctx.fillStyle = u5Fills[i];
          ctx.fillRect(218, cy - 5, 17, 10);
          ctx.restore();
          drawRich(ctx, [{ t: n, f: font(14, true) }], 243, cy, 0, 'left');
        });
      },
    };
    charts.push(new Chart(cRef.current as any, {
      type: 'bar',
      data: {
        labels: sampleLabels,
        datasets: u5Values.map((v, i) => ({
          label: u5Names[i], data: v, backgroundColor: u5Fills[i], borderWidth: 0,
          barPercentage: 0.66, categoryPercentage: 1,
        })),
      },
      options: {
        responsive: false, animation: false, devicePixelRatio: 1, events: [],
        layout: { padding: { top: 62, right: 125, left: 0, bottom: 0 } },
        plugins: { legend: { display: false }, tooltip: { enabled: false } },
        scales: barScales({ showX: true, xh: 93, yw: 88, min: 0, max: 100, ticks: [0, 25, 50, 75, 100] }),
      },
      plugins: [cExtras],
    } as any));

    // ---- panel d (broken axis: lower 0-55, upper segment near 100) ----
    const psiValues = [psi3342, psi3436b, psi2566, psi1135c, psi2622, psi3308, psiOthers];
    const psiFills = [LIGHT, checker, MID, DARK, hatch, INK, DARK];
    const psiDatasets = (clip: any) => psiValues.map((v, i) => ({
      label: psiNames[i], data: v, backgroundColor: psiFills[i], borderWidth: 0,
      barPercentage: 0.65, categoryPercentage: 1, clip,
    }));
    const dExtras = {
      id: 'dExtras',
      afterDraw(chart: any) {
        const { ctx, chartArea } = chart;
        letter(ctx, 'd', 43, 37);
        topLabels(chart, psiTotalMantissa, psiTotalExponent, 83);
        ctx.save();
        ctx.strokeStyle = INK; ctx.lineWidth = 2;
        poly(ctx, [[chartArea.left - 3, chartArea.top], [chartArea.left + 5, chartArea.top]]);
        ctx.restore();
        drawRich(ctx, [
          { t: 'snoRNA', f: font(13.5, true) }, { t: '  ', f: font(13.5) },
          { t: '\u03C828S', f: font(13.5, true) }, { t: ' relative abundance  (% FPKM)', f: font(13.5) },
        ], 39, 208, -Math.PI / 2);
        psiNames.forEach((n, i) => {
          const cy = 103 + i * 26.3;
          ctx.save();
          ctx.fillStyle = psiFills[i];
          ctx.fillRect(221, cy - 5, 16, 10);
          ctx.restore();
          const segs: Seg[] = n === 'others'
            ? [{ t: n, f: font(14, true) }]
            : [{ t: '\u03C8', f: `15px ${FF}` }, { t: n, f: font(14, true) }];
          drawRich(ctx, segs, n === 'others' ? 244 : 242, cy, 0, 'left');
        });
      },
    };
    charts.push(new Chart(dLoRef.current as any, {
      type: 'bar',
      data: { labels: sampleLabels, datasets: psiDatasets(0) },
      options: {
        responsive: false, animation: false, devicePixelRatio: 1, events: [],
        layout: { padding: { top: 118, right: 124, left: 0, bottom: 0 } },
        plugins: { legend: { display: false }, tooltip: { enabled: false } },
        scales: barScales({ showX: true, xh: 88, yw: 89, min: 0, max: 55, ticks: [0, 25, 50] }),
      },
      plugins: [dExtras],
    } as any));
    const dHiExtras = {
      id: 'dHiExtras',
      afterDraw(chart: any) {
        const { ctx, chartArea } = chart;
        ctx.save();
        ctx.strokeStyle = INK; ctx.lineWidth = 2;
        poly(ctx, [[chartArea.left - 4, chartArea.bottom], [chartArea.left, chartArea.bottom]]);
        ctx.restore();
      },
    };
    charts.push(new Chart(dHiRef.current as any, {
      type: 'bar',
      data: { labels: sampleLabels, datasets: psiDatasets(0) },
      options: {
        responsive: false, animation: false, devicePixelRatio: 1, events: [],
        layout: { padding: { top: 17, right: 124, left: 0, bottom: 13 } },
        plugins: { legend: { display: false }, tooltip: { enabled: false } },
        scales: barScales({ showX: false, xh: 0, yw: 89, min: 97.3, max: 100, ticks: [100] }),
      },
      plugins: [dHiExtras],
    } as any));

    return () => charts.forEach((c) => c.destroy());
  }, []);

  const pos = (l: number, t: number, w: number, h: number) => ({
    position: 'absolute' as const, left: l, top: t, width: w, height: h,
  });

  return (
    <div style={{ position: 'absolute', left: 0, top: 0, width: 697, height: 811, background: '#ffffff', overflow: 'hidden' }}>
      <canvas ref={aRef} width={350} height={380} style={pos(0, 0, 350, 380)} />
      <canvas ref={bRef} width={350} height={411} style={pos(0, 400, 350, 411)} />
      <canvas ref={cRef} width={327} height={380} style={pos(370, 0, 327, 380)} />
      <canvas ref={dLoRef} width={327} height={411} style={pos(370, 400, 327, 411)} />
      <canvas ref={dHiRef} width={327} height={40} style={pos(370, 480, 327, 40)} />
    </div>
  );
}
